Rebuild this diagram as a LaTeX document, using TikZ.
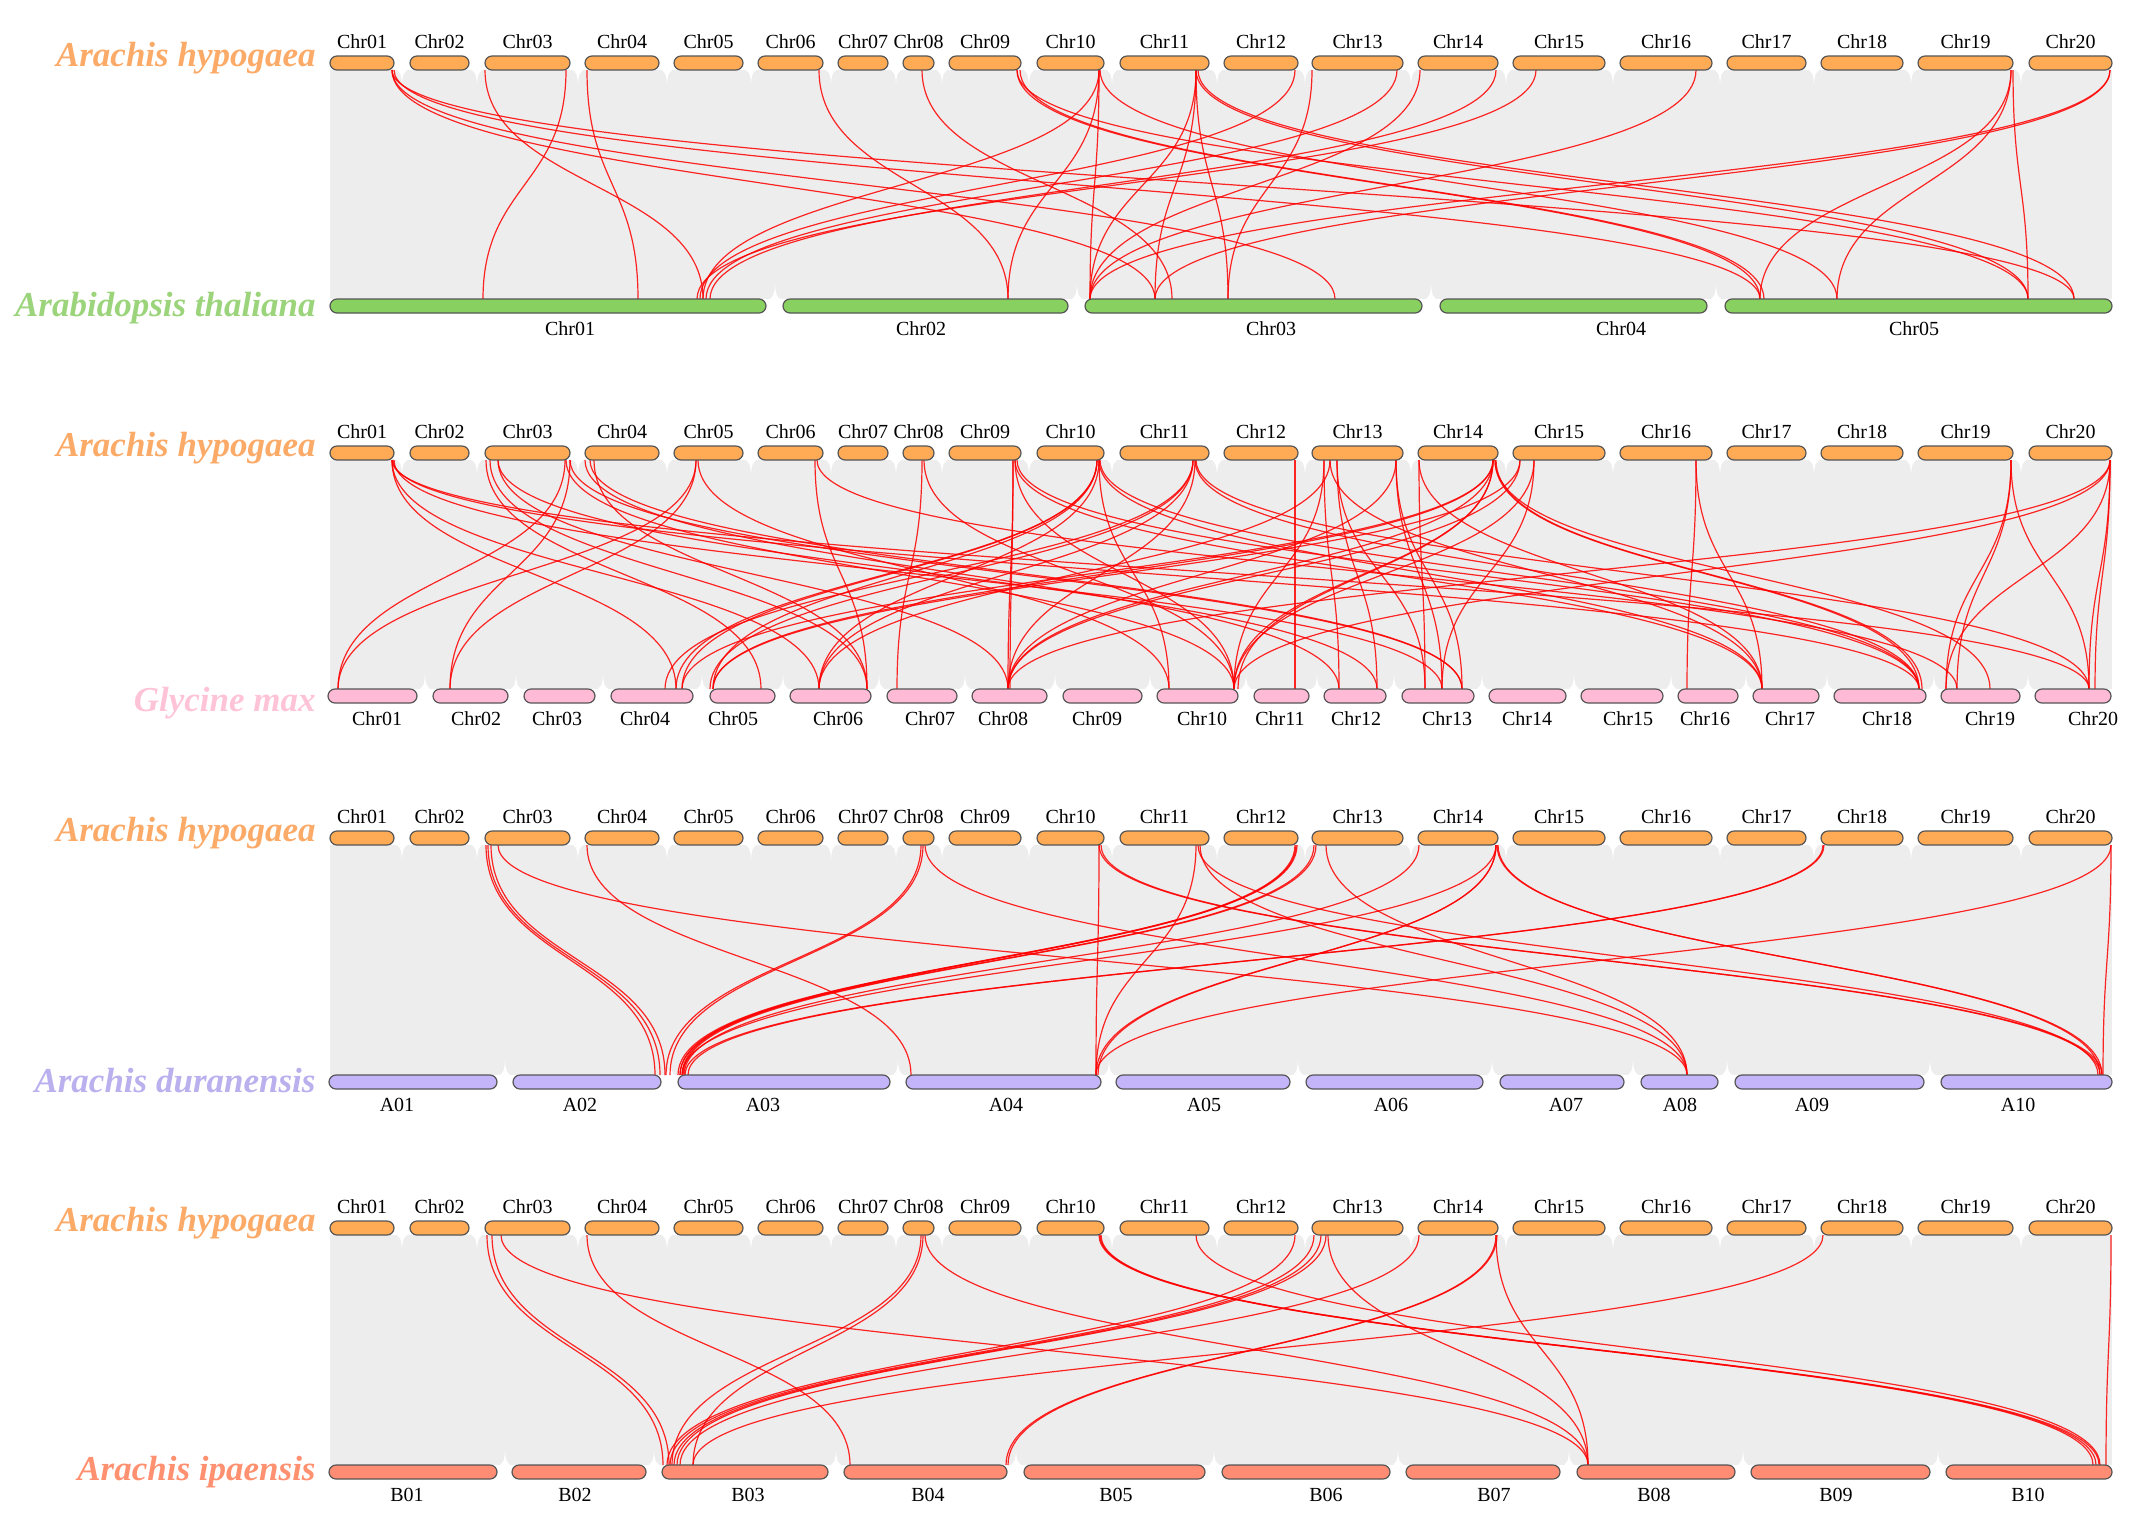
\documentclass[tikz,border=0pt]{standalone}
\usepackage{fontspec}
\setmainfont{Liberation Serif}
\usetikzlibrary{calc}

\definecolor{ribgray}{RGB}{237,237,237}
\definecolor{barline}{RGB}{85,85,85}
\definecolor{hypofill}{HTML}{FFAA55}
\definecolor{hypotext}{HTML}{FBAA68}
\definecolor{thalfill}{HTML}{88D160}
\definecolor{thaltext}{HTML}{9CD47C}
\definecolor{glyfill}{HTML}{FFBBD6}
\definecolor{glytext}{HTML}{FFC3D8}
\definecolor{durfill}{HTML}{C4B5FB}
\definecolor{durtext}{HTML}{BBB0EE}
\definecolor{ipafill}{HTML}{FF8C73}
\definecolor{ipatext}{HTML}{FF9070}

\begin{document}
\begin{tikzpicture}[x=0.5pt, y=-0.5pt,
  chrbar/.style={draw=barline, line width=0.6pt, rounded corners=3.5pt},
  chrlab/.style={font=\fontsize{10}{12}\selectfont, inner sep=0pt, anchor=base},
  splab/.style={font=\fontsize{17.5}{21}\selectfont\bfseries\itshape, inner sep=0pt, anchor=base east},
  link/.style={red, line width=0.6pt, opacity=0.85}]
\useasboundingbox (0,0) rectangle (2139,1528);

% grey blocks
\foreach \ty/\by in {70/299, 460/689, 845/1075, 1235/1465}
  \fill[ribgray] (330,\ty) rectangle (2112,\by);

% white notches at the gaps
\foreach \ty in {70, 460, 845, 1235}
  \foreach \g in {402,477,578,667,751,831,896,942,1029,1112,1217,1305,1411,1506,1613,1720,1814,1911,2021}
    \fill[white] (\g-5,\ty) .. controls (\g-1,\ty+4) .. (\g,\ty+14) .. controls (\g+1,\ty+4) .. (\g+5,\ty) -- cycle;
\foreach \by/\gl in {299/{775,1077,1431,1716},
    689/{425,516,603,702,783,879,965,1055,1150,1246,1317,1394,1482,1574,1671,1746,1827,1934,2028},
    1075/{505,670,898,1109,1298,1492,1633,1727,1930},
    1465/{505,654,836,1016,1214,1398,1569,1743,1938}}
  \foreach \g in \gl
    \fill[white] (\g-5,\by) .. controls (\g-1,\by-4) .. (\g,\by-14) .. controls (\g+1,\by-4) .. (\g+5,\by) -- cycle;

% links: Arachis hypogaea - Arabidopsis thaliana
\foreach \u/\v in {392/1155, 392/1335, 394/1760, 392/2074, 485/703, 566/483, 587/638,
    819/1008, 922/1172, 1017/1760, 1020/1764, 1017/2028,
    1099/1090, 1099/703, 1099/1008, 1100/1837,
    1196/1090, 1196/1155, 1196/1228, 1196/2028, 1198/2074,
    1295/700, 1312/1228, 1397/706, 1420/1090, 1496/710, 1536/697, 1696/1090,
    2011/1760, 2011/1837, 2013/2028, 2110/1090, 2110/1155}
  \draw[link] (\u,70) .. controls (\u,185) and (\v,185) .. (\v,299);

% links: Arachis hypogaea - Glycine max
\foreach \u/\v in {392/676, 392/819, 393/1919, 392/2089, 394/1442,
    565/338, 570/450, 486/761, 490/867, 498/1008, 498/1377, 570/1462, 566/1234,
    585/1339, 594/867, 590/1462, 696/338, 696/450, 698/1169, 815/867, 817/1957,
    922/897, 924/1234, 1013/1008, 1013/1010, 1015/1234, 1015/1762, 1017/1919,
    1097/676, 1097/682, 1097/713, 1099/819, 1099/1169, 1099/1762, 1100/1919,
    1193/665, 1193/710, 1193/819, 1195/1008, 1195/1919, 1196/2089, 1295/1295,
    1324/1234, 1324/1339, 1337/1377, 1337/1425, 1396/1442, 1396/1462, 1396/1008, 1330/819, 1330/1762,
    1419/1425, 1493/1234, 1493/1238, 1493/1008, 1493/713, 1493/682, 1495/1919, 1496/1922, 1495/1990, 1419/1762,
    1520/1008, 1534/1234, 1520/713, 1534/1442, 1696/1687, 1696/1762,
    2011/1946, 2011/1957, 2011/2089, 2110/2089, 2110/2095, 2110/1234, 2110/1008, 2110/1946}
  \draw[link] (\u,460) .. controls (\u,574) and (\v,574) .. (\v,689);

% links: Arachis hypogaea - Arachis duranensis
\foreach \u/\v in {486/655, 488/660, 491/665, 498/1687, 587/911, 921/666, 923/670, 925/1687,
    1099/1096, 1099/2100, 1101/2102, 1196/1096, 1198/2098, 1200/1687,
    1295/678, 1296/680, 1297/682, 1314/680, 1316/683, 1326/1687, 1419/684,
    1496/1096, 1496/1098, 1498/2100, 1497/2102, 1496/682, 1823/685, 1824/688, 2111/2103, 2111/1096}
  \draw[link] (\u,845) .. controls (\u,960) and (\v,960) .. (\v,1075);

% links: Arachis hypogaea - Arachis ipaensis
\foreach \u/\v in {487/663, 492/669, 501/1588, 587/850, 921/672, 923/693, 925/1588,
    1099/2093, 1100/2096, 1101/2099, 1196/2100, 1295/667, 1314/670, 1321/674, 1326/677, 1328/1588,
    1419/680, 1496/1006, 1497/1008, 1496/1588, 1823/693, 2111/2106}
  \draw[link] (\u,1235) .. controls (\u,1350) and (\v,1350) .. (\v,1465);

% Arachis hypogaea rows
\foreach \cy/\p in {63/a, 453/b, 838/c, 1228/d}
  \foreach \a/\b/\n in {330/394/01, 410/469/02, 485/570/03, 585/659/04, 674/743/05,
      758/823/06, 838/888/07, 903/934/08, 949/1021/09, 1037/1104/10,
      1120/1209/11, 1224/1298/12, 1312/1403/13, 1418/1498/14, 1513/1605/15,
      1620/1712/16, 1727/1806/17, 1821/1903/18, 1918/2013/19, 2029/2112/20}
  {
    \draw[chrbar, fill=hypofill] (\a,\cy-7) rectangle (\b,\cy+7);
    \node[chrlab] (\p hyp\n) at ({(\a+\b)/2},\cy-15) {Chr\n};
  }

% Arabidopsis thaliana
\foreach \a/\b/\n/\m in {330/766/01/570, 783/1068/02/921, 1085/1422/03/1271,
    1440/1707/04/1621, 1725/2112/05/1914}
{
  \draw[chrbar, fill=thalfill] (\a,299) rectangle (\b,313);
  \node[chrlab] (thal\n) at (\m,335) {Chr\n};
}

% Glycine max
\foreach \a/\b/\n/\m in {328/417/01/377, 433/508/02/476, 524/595/03/557, 611/693/04/645,
    710/775/05/733, 790/871/06/838, 887/957/07/930, 972/1047/08/1003, 1063/1142/09/1097,
    1157/1238/10/1202, 1254/1309/11/1280, 1324/1386/12/1356, 1402/1474/13/1447,
    1489/1566/14/1527, 1581/1663/15/1628, 1678/1738/16/1705, 1753/1819/17/1790,
    1834/1926/18/1887, 1941/2020/19/1990, 2035/2111/20/2093}
{
  \draw[chrbar, fill=glyfill] (\a,689) rectangle (\b,703);
  \node[chrlab] (gly\n) at (\m,725) {Chr\n};
}

% Arachis duranensis
\foreach \a/\b/\n/\m in {329/497/01/397, 513/661/02/580, 678/890/03/763, 906/1101/04/1006,
    1116/1290/05/1204, 1306/1483/06/1391, 1500/1624/07/1566, 1641/1718/08/1680,
    1735/1924/09/1812, 1941/2112/10/2018}
{
  \draw[chrbar, fill=durfill] (\a,1075) rectangle (\b,1089);
  \node[chrlab] (dur\n) at (\m,1111) {A\n};
}

% Arachis ipaensis
\foreach \a/\b/\n/\m in {329/497/01/407, 512/646/02/575, 662/828/03/748, 844/1007/04/928,
    1024/1205/05/1116, 1222/1390/06/1326, 1406/1560/07/1494, 1577/1735/08/1654,
    1751/1930/09/1836, 1946/2112/10/2028}
{
  \draw[chrbar, fill=ipafill] (\a,1465) rectangle (\b,1479);
  \node[chrlab] (ipa\n) at (\m,1501) {B\n};
}

% species names
\node[splab, text=hypotext] (hypoA) at (316,66) {Arachis hypogaea};
\node[splab, text=thaltext] (thal) at (316,316) {Arabidopsis thaliana};
\node[splab, text=hypotext] (hypoB) at (316,456) {Arachis hypogaea};
\node[splab, text=glytext] (gly) at (316,711) {Glycine max};
\node[splab, text=hypotext] (hypoC) at (316,841) {Arachis hypogaea};
\node[splab, text=durtext] (dur) at (316,1092) {Arachis duranensis};
\node[splab, text=hypotext] (hypoD) at (316,1231) {Arachis hypogaea};
\node[splab, text=ipatext] (ipa) at (316,1480) {Arachis ipaensis};

\end{tikzpicture}
\end{document}
